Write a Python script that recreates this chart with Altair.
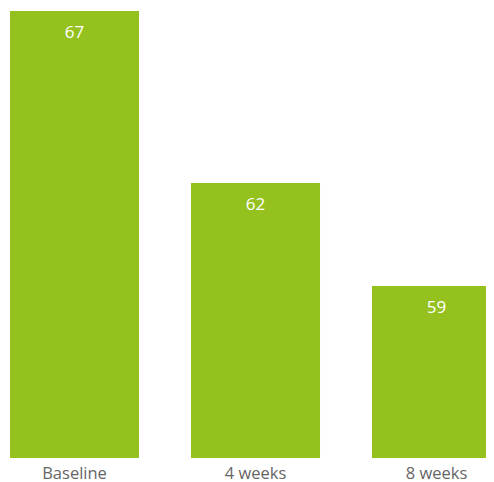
import altair as alt
import pandas as pd

categories = ["Baseline", "4 weeks", "8 weeks"]
values = [67, 62, 59]

df = pd.DataFrame({"cat": categories, "val": values})

base = alt.Chart(df).encode(
    x=alt.X("cat:N", sort=categories,
            scale=alt.Scale(paddingInner=0.287, paddingOuter=0, range=[0, 491]),
            axis=alt.Axis(title=None, labelAngle=0, domain=False, ticks=False,
                          labelFont="Open Sans", labelFontSize=16.5, labelColor="#666666",
                          labelPadding=7)),
    y=alt.Y("val:Q", scale=alt.Scale(domain=[54, 67], zero=False, nice=False),
            axis=None),
)

bars = base.mark_bar(color="#95C11F", clip=True)
labels = base.mark_text(baseline="middle", dy=22, color="white",
                        font="Open Sans", fontSize=17).encode(text="val:Q")

chart = (bars + labels).properties(
    width=476, height=447,
    autosize=alt.AutoSizeParams(type="none"),
    padding={"left": 2, "top": 3, "right": 0, "bottom": 24},
).configure_view(stroke=None)

chart.save("out.html", embed_options={"renderer": "svg", "actions": False})
